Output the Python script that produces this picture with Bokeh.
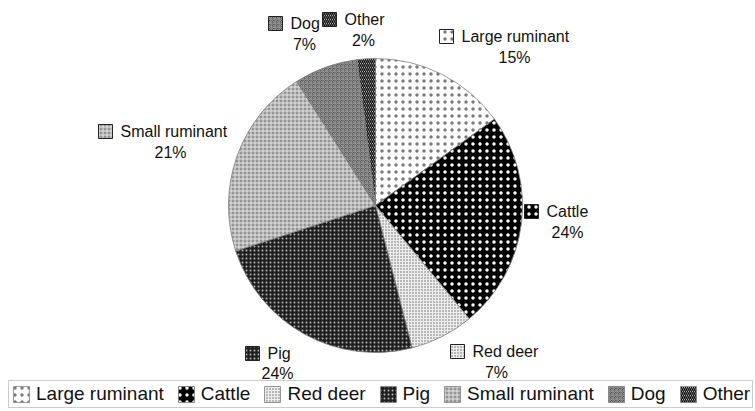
import numpy as np
from bokeh.plotting import figure
from bokeh.models import ColumnDataSource, Range1d, Legend, LegendItem
from bokeh.core.properties import value
from bokeh.embed import file_html
from bokeh.resources import INLINE

# Share of identified animal remains by taxon (%)
categories = ["Large ruminant", "Cattle", "Red deer", "Pig", "Small ruminant", "Dog", "Other"]
shares = [15, 24, 7, 24, 21, 7, 2]
pct_labels = [f"{s}%" for s in shares]

# Fill / hatch styling per slice
fills = ["#ffffff", "#000000", "#ededed", "#1f1f1f", "#949494", "#555555", "#ffffff"]
hatch_patterns = ["dot", "dot", "dot", "dot", "cross", "criss_cross", "left_diagonal_line"]
hatch_colors = ["#7a7a7a", "#ffffff", "#666666", "#b5b5b5", "#e6e6e6", "#959595", "#111111"]
hatch_scales = [7, 7, 3, 4, 4, 4, 4]
hatch_weights = [1, 1, 1, 1, 1, 1, 1.5]

W, H = 755, 411
CX, CY, R = 375, 205, 147  # pie centre and radius, screen px (y down)

frac = np.array(shares, dtype=float) / sum(shares)
cum = np.concatenate([[0], np.cumsum(frac)])
start = np.pi / 2 - 2 * np.pi * cum[:-1]
end = np.pi / 2 - 2 * np.pi * cum[1:]

src = ColumnDataSource(dict(
    cat=categories, start=start, end=end,
    fill=fills, hp=hatch_patterns, hc=hatch_colors, hs=hatch_scales, hw=hatch_weights,
))

p = figure(width=W, height=H, x_range=Range1d(0, W), y_range=Range1d(0, H),
           output_backend="svg", toolbar_location=None, min_border=0,
           background_fill_color="white", border_fill_color="white")
p.axis.visible = False
p.grid.visible = False
p.outline_line_color = None

wedges = p.wedge(x=CX, y=H - CY, radius=R, start_angle="start", end_angle="end",
                 direction="clock", source=src,
                 fill_color="fill", hatch_pattern="hp", hatch_color="hc", hatch_scale="hs",
                 hatch_weight="hw", line_color="#808080", line_width=0.8)

# Data-label layout: (name text left x, name y, percentage centre x, percentage y), screen px
label_layout = [
    (461, 36, 514, 57),
    (546, 211, 567, 232),
    (472, 351, 496, 372),
    (267, 353, 277, 373),
    (120, 131, 170, 152),
    (290, 23, 304, 44),
    (344, 19, 363, 40),
]
nx = [l[0] for l in label_layout]
ny = [H - l[1] for l in label_layout]
px_ = [l[2] for l in label_layout]
py_ = [H - l[3] for l in label_layout]
ix = [l[0] - 15 for l in label_layout]

lab = ColumnDataSource(dict(nx=nx, ny=ny, px=px_, py=py_, ix=ix, name=categories, pct=pct_labels,
                            fill=fills, hp=hatch_patterns, hc=hatch_colors, hs=hatch_scales,
                            hw=hatch_weights))

p.rect(x="ix", y="ny", width=14, height=14, source=lab,
       fill_color="fill", hatch_pattern="hp", hatch_color="hc", hatch_scale="hs",
       hatch_weight="hw", line_color="#222222", line_width=1)
font = value("Liberation Sans")
p.text(x="nx", y="ny", text="name", source=lab, text_align="left", text_baseline="middle",
       text_font=font, text_font_size="16px", text_color="#111111")
p.text(x="px", y="py", text="pct", source=lab, text_align="center", text_baseline="middle",
       text_font=font, text_font_size="16px", text_color="#111111")

items = [LegendItem(label=c, renderers=[wedges], index=i) for i, c in enumerate(categories)]
legend = Legend(items=items, orientation="horizontal", location=(8, 3),
                glyph_width=20, glyph_height=20, label_standoff=5, spacing=12,
                padding=2, margin=0, label_height=20,
                label_text_font="Liberation Sans", label_text_font_size="19px",
                label_text_color="#111111",
                border_line_color="#9a9a9a", border_line_width=1,
                background_fill_color="white", background_fill_alpha=1)
p.add_layout(legend)

open("out.html", "w").write(file_html(p, INLINE))
